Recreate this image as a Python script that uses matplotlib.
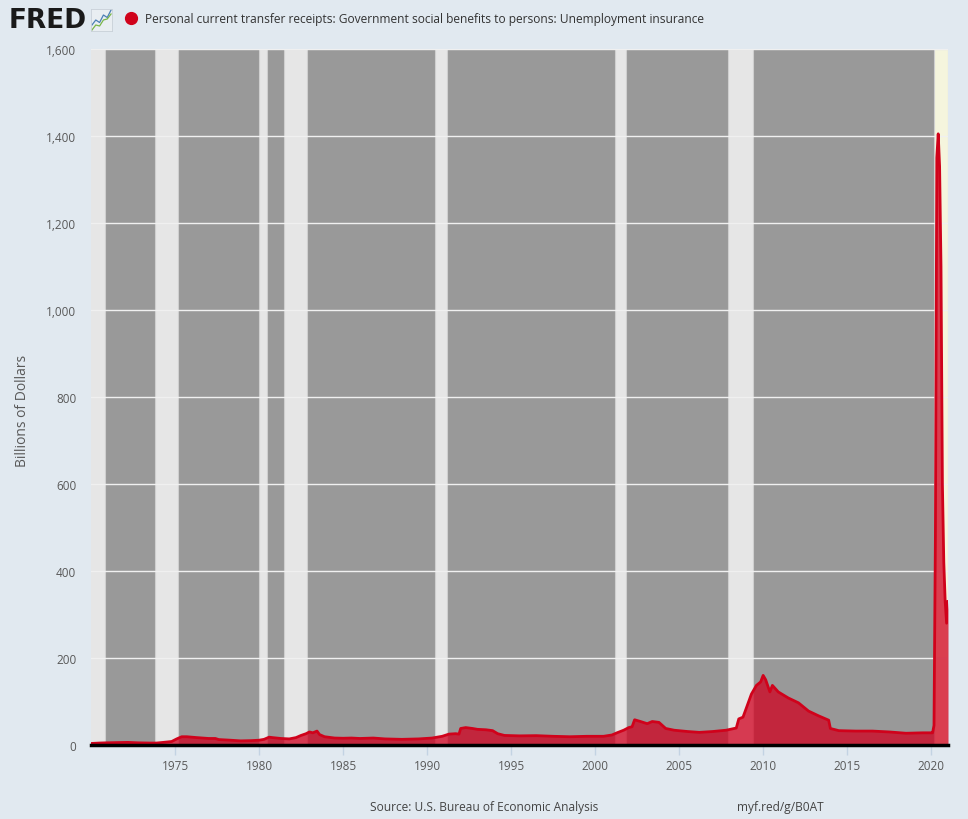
import matplotlib
matplotlib.use("Agg")
import matplotlib.pyplot as plt
from matplotlib.lines import Line2D

plt.rcParams['font.family'] = ['Open Sans', 'DejaVu Sans']

# ---- data ----
years = [1970.0, 1970.5, 1970.9, 1971.5, 1972.2, 1972.8, 1973.5, 1973.9, 1974.3, 1974.8,
         1975.1, 1975.4, 1975.7, 1976.3, 1977.0, 1977.4, 1977.6, 1978.3, 1978.9, 1979.5,
         1980.0, 1980.3, 1980.6, 1980.8, 1981.3, 1981.8, 1982.2, 1982.5, 1982.8, 1983.0,
         1983.2, 1983.45, 1983.6, 1983.9, 1984.5, 1985.0, 1985.5, 1986.0, 1986.8, 1987.5,
         1988.5, 1989.5, 1990.3, 1990.9, 1991.3, 1991.7, 1991.9, 1992.0, 1992.3, 1992.7,
         1993.0, 1993.5, 1993.9, 1994.2, 1994.6, 1995.5, 1996.5, 1997.5, 1998.5, 1999.5,
         2000.5, 2001.0, 2001.3, 2001.7, 2002.0, 2002.2, 2002.35, 2002.7, 2003.1, 2003.4,
         2003.8, 2004.2, 2004.7, 2005.5, 2006.2, 2007.0, 2007.8, 2008.4, 2008.55, 2008.8,
         2009.0, 2009.3, 2009.6, 2009.85, 2010.0, 2010.15, 2010.4, 2010.55, 2010.9, 2011.5,
         2012.1, 2012.7, 2013.3, 2013.9, 2014.0, 2014.5, 2015.5, 2016.5, 2017.5, 2018.5,
         2019.5, 2020.0, 2020.083, 2020.167, 2020.25, 2020.333, 2020.417, 2020.5, 2020.583,
         2020.667, 2020.75, 2020.833, 2020.917, 2021.0]
values = [3.5, 4.5, 5, 5.5, 6, 5, 4.5, 4.5, 6, 8,
          14, 19, 19, 17, 15, 15, 12.5, 11, 9.5, 10,
          11, 13, 18, 17, 15, 14, 17, 22, 26, 30,
          28, 32, 24, 19, 16, 15.5, 16, 15, 16, 14,
          13, 14, 16, 20, 25, 26, 25, 38, 40, 38,
          36, 35, 33, 26, 22, 21, 21.5, 20, 19, 20,
          20, 23, 28, 34, 40, 42, 58, 54, 49, 54,
          52, 38, 34, 31, 29, 31, 34, 39, 60, 64,
          85, 117, 137, 145, 160, 150, 122, 137, 122, 108,
          97, 78, 67, 57, 38, 33, 32, 32, 30, 27,
          28, 28, 28, 45, 480, 1350, 1405, 1330, 1100,
          600, 420, 330, 280, 330]

recessions = [(1969.9, 1970.83), (1973.83, 1975.17), (1980.0, 1980.5), (1981.5, 1982.83),
              (1990.5, 1991.17), (2001.17, 2001.83), (2007.92, 2009.42)]
highlight = (2020.14, 2021.0)

x_ticks = [1975, 1980, 1985, 1990, 1995, 2000, 2005, 2010, 2015, 2020]
y_ticks = [0, 200, 400, 600, 800, 1000, 1200, 1400, 1600]

title = "Personal current transfer receipts: Government social benefits to persons: Unemployment insurance"
y_label = "Billions of Dollars"
source = "Source: U.S. Bureau of Economic Analysis"
link = "myf.red/g/B0AT"

icon_blue = [2, 3, 2.5, 4, 3.5, 5]
icon_green = [1, 2, 1.8, 3, 3.2, 4.2]

# ---- figure ----
W, H = 968, 820
fig = plt.figure(figsize=(W / 100, H / 100), dpi=100)
fig.patch.set_facecolor('#e1e9f0')

ax = fig.add_axes([91 / W, 1 - 746 / H, (948 - 91) / W, (746 - 50) / H])
ax.set_facecolor('#999999')
ax.set_xlim(1970.0, 2021.0)
ax.set_ylim(0, 1600)

for s, e in recessions:
    ax.axvspan(s, e, facecolor='#e6e6e6', edgecolor='#cfcfcf', lw=0.8, zorder=0.2)
ax.axvspan(highlight[0], highlight[1], facecolor='#f5f5dd', edgecolor='#cfcfcf', lw=0.8, zorder=0.2)

ax.set_axisbelow(True)
ax.set_yticks(y_ticks)
ax.yaxis.grid(True, color='#f0f0f0', lw=1)
ax.set_yticklabels([f"{v:,}" for v in y_ticks])
ax.tick_params(axis='y', length=0, pad=10.5, labelsize=8.5, labelcolor='#595959')

ax.set_xticks(x_ticks)
ax.tick_params(axis='x', direction='out', length=7, width=1, color='#c3d3e3',
               pad=3, labelsize=8.5, labelcolor='#595959')

ax.fill_between(years, values, 0, color='#d1001f', alpha=0.75, lw=0, zorder=2)
ax.plot(years, values, color='#d0021b', lw=2, zorder=3, solid_joinstyle='round')

for side in ['left', 'right', 'top']:
    ax.spines[side].set_visible(False)
ax.spines['bottom'].set_color('black')
ax.spines['bottom'].set_linewidth(2.5)
ax.spines['bottom'].set_zorder(4)

# ---- header ----
fig.text(9 / W, 1 - 21 / H, "FRED", fontsize=19, weight='heavy', family='DejaVu Sans',
         color='#1a1a1a', va='center', ha='left')
iax = fig.add_axes([91 / W, 1 - 32 / H, 21 / W, 22 / H])
iax.set_facecolor('#e9eef2')
iax.plot(icon_blue, color='#4a7fb5', lw=0.9)
iax.plot(icon_green, color='#7ab648', lw=0.9)
iax.set_xticks([]); iax.set_yticks([])
for sp in iax.spines.values():
    sp.set_color('#c8d0d8'); sp.set_linewidth(0.6)

fig.add_artist(Line2D([131 / W], [1 - 19 / H], marker='o', markersize=8.5,
                      color='#d0021b', transform=fig.transFigure))
fig.text(145 / W, 1 - 20 / H, title, fontsize=8.62, color='#333333', va='center', ha='left')

fig.text(23 / W, 1 - 411 / H, y_label, rotation=90, fontsize=10, color='#595959',
         va='center', ha='center')

fig.text(484 / W, 1 - 808 / H, source, fontsize=8.6, color='#444444', va='center', ha='center')
fig.text(737 / W, 1 - 808 / H, link, fontsize=8.6, color='#444444', va='center', ha='left')

fig.savefig("out.png", dpi=100, facecolor=fig.get_facecolor())
